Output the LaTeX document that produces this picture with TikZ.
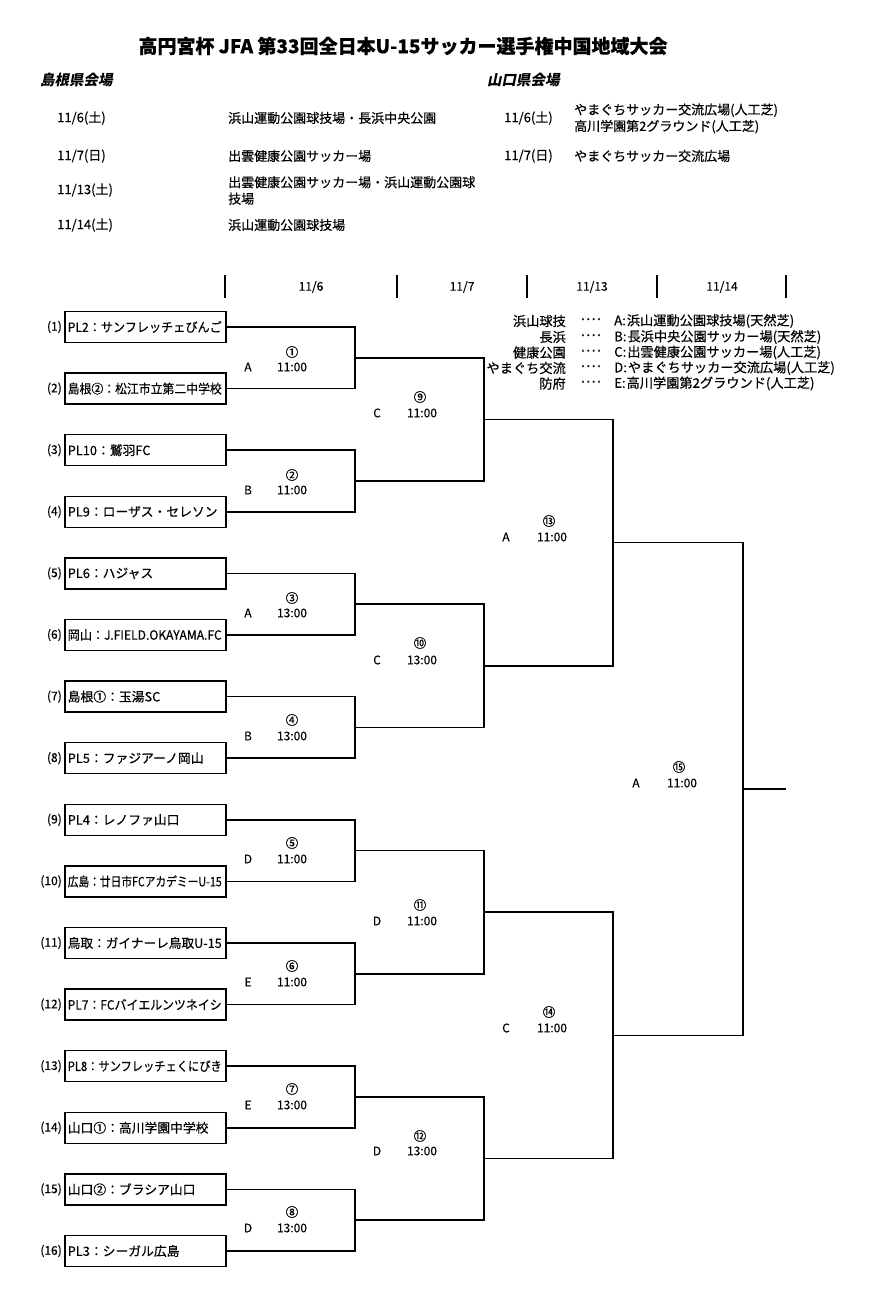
\documentclass[tikz,border=0pt]{standalone}
\usepackage{fontspec}
\usepackage{graphicx}
\setmainfont{Noto Sans CJK JP}[FakeBold=0.4]
\newfontfamily\headfont[FakeSlant=0.2]{Noto Sans CJK JP}
\newfontfamily\dotfont[FakeBold=1.5]{DejaVu Sans}
\newsavebox\namebox
\newcommand\fitname[1]{\sbox\namebox{#1}\ifdim\wd\namebox>154pt\resizebox{154pt}{\height}{\usebox\namebox}\else\usebox\namebox\fi}
\tikzset{
  teambox/.style={draw, line width=1.5pt, anchor=west, text width=155pt, inner xsep=3pt, inner ysep=0pt, minimum height=31pt, align=left, font=\fontsize{12.8}{14}\selectfont},
  seed/.style={anchor=east, inner sep=0pt, font=\fontsize{12}{13}\selectfont},
  bline/.style={line width=1.5pt},
  num/.style={inner sep=0pt, font=\fontsize{12.5}{14}\selectfont},
  lbl/.style={inner sep=0pt, font=\fontsize{12}{13}\selectfont},
  sched/.style={inner sep=0pt, anchor=west, align=left, font=\fontsize{13}{16.5}\selectfont},
  legl/.style={inner sep=0pt, anchor=east, font=\fontsize{13.2}{14}\selectfont},
  legr/.style={inner sep=0pt, anchor=west, font=\fontsize{13.2}{14}\selectfont},
  legd/.style={inner sep=0pt, font=\dotfont\fontsize{13}{14}\selectfont},
  datehd/.style={inner sep=0pt, font=\fontsize{12}{13}\selectfont},
  heading/.style={inner sep=0pt, anchor=west, font=\headfont\bfseries\fontsize{14.5}{16}\selectfont}
}
\begin{document}
\begin{tikzpicture}[x=1pt, y=-1pt, line join=miter]
\useasboundingbox (0,0) rectangle (894,1289);
% title
\node[inner sep=0pt, font=\bfseries\fontsize{19}{22}\selectfont] (title) at (403,46) {高円宮杯 JFA 第33回全日本U-15サッカー選手権中国地域大会};
% headings
\node[heading] (hs) at (40,80) {島根県会場};
\node[heading] (hy) at (487,80) {山口県会場};
% schedule left
\node[sched] (sd1) at (57,118) {11/6(土)};
\node[sched] (sv1) at (228,118) {浜山運動公園球技場・長浜中央公園};
\node[sched] (sd2) at (57,156) {11/7(日)};
\node[sched] (sv2) at (228,156) {出雲健康公園サッカー場};
\node[sched] (sd3) at (57,190) {11/13(土)};
\node[sched] (sv3) at (228,190.5) {出雲健康公園サッカー場・浜山運動公園球\\技場};
\node[sched] (sd4) at (57,225) {11/14(土)};
\node[sched] (sv4) at (228,225) {浜山運動公園球技場};
% schedule right
\node[sched] (yd1) at (504,118) {11/6(土)};
\node[sched] (yv1) at (574,118.5) {やまぐちサッカー交流広場(人工芝)\\高川学園第2グラウンド(人工芝)};
\node[sched] (yd2) at (504,156) {11/7(日)};
\node[sched] (yv2) at (574,156) {やまぐちサッカー交流広場};
% date header
\foreach \x [count=\i] in {225,397,527,657,786}{
  \coordinate (ht\i) at (\x,275);
  \coordinate (hb\i) at (\x,298);
  \draw[line width=1.5pt] (ht\i) -- (hb\i);
}
\node[datehd] (d1) at (311,287) {11/6};
\node[datehd] (d2) at (462,287) {11/7};
\node[datehd] (d3) at (592,287) {11/13};
\node[datehd] (d4) at (722,287) {11/14};
% legend
\node[legl] (la) at (566,321) {浜山球技};
\node[legl] (lb) at (566,337) {長浜};
\node[legl] (lc) at (566,352.5) {健康公園};
\node[legl] (ld) at (566,368) {やまぐち交流};
\node[legl] (le) at (566,383.5) {防府};
\foreach \yy [count=\i] in {321,337,352.5,368,383.5}{
  \node[legd] (dots\i) at (591,\yy) {·\kern1.2pt·\kern1.2pt·\kern1.2pt·};
}
\node[legr] (ra) at (614,321) {A:\kern1pt浜山運動公園球技場(天然芝)};
\node[legr] (rb) at (614,337) {B:\kern1pt長浜中央公園サッカー場(天然芝)};
\node[legr] (rc) at (614,352.5) {C:\kern1pt出雲健康公園サッカー場(人工芝)};
\node[legr] (rd) at (614,368) {D:\kern1ptやまぐちサッカー交流広場(人工芝)};
\node[legr] (re) at (614,383.5) {E:\kern1pt高川学園第2グラウンド(人工芝)};
% teams
\foreach \nm [count=\i] in {
  {PL2：サンフレッチェびんご},
  {島根②：松江市立第二中学校},
  {PL10：鷲羽FC},
  {PL9：ローザス・セレソン},
  {PL6：ハジャス},
  {岡山：J.FIELD.OKAYAMA.FC},
  {島根①：玉湯SC},
  {PL5：ファジアーノ岡山},
  {PL4：レノファ山口},
  {広島：廿日市FCアカデミーU-15},
  {鳥取：ガイナーレ鳥取U-15},
  {PL7：FCバイエルンツネイシ},
  {PL8：サンフレッチェくにびき},
  {山口①：高川学園中学校},
  {山口②：ブラシア山口},
  {PL3：シーガル広島}}{
  \pgfmathsetmacro\yy{327+61.6*(\i-1)}
  \node[teambox] (t\i) at (64,\yy) {\fitname{\nm}};
  \node[seed] (s\i) at (62,\yy) {(\i)};
}
% junctions
\coordinate (j1) at (355,357.8);
\coordinate (j2) at (355,481);
\coordinate (j3) at (355,604.2);
\coordinate (j4) at (355,727.4);
\coordinate (j5) at (355,850.6);
\coordinate (j6) at (355,973.8);
\coordinate (j7) at (355,1097);
\coordinate (j8) at (355,1220.2);
\coordinate (k1) at (484,419.4);
\coordinate (k2) at (484,665.8);
\coordinate (k3) at (484,912.2);
\coordinate (k4) at (484,1158.6);
\coordinate (q1) at (613,542.6);
\coordinate (q2) at (613,1035.4);
\coordinate (f) at (743,789);
\coordinate (fend) at (786,789);
% bracket lines
\foreach \k [evaluate=\k as \a using int(2*\k-1), evaluate=\k as \b using int(2*\k)] in {1,...,8}{
  \draw[bline] (t\a.east) -| (j\k) |- (t\b.east);
}
\foreach \k [evaluate=\k as \a using int(2*\k-1), evaluate=\k as \b using int(2*\k)] in {1,...,4}{
  \draw[bline] (j\a) -| (k\k) |- (j\b);
}
\draw[bline] (k1) -| (q1) |- (k2);
\draw[bline] (k3) -| (q2) |- (k4);
\draw[bline] (q1) -| (f) |- (q2);
\draw[bline] (f) -- (fend);
% match labels round 1
\node[num] (n1) at (292,352) {①};
\node[lbl] (v1) at (248,367) {A};
\node[lbl] (c1) at (292,367) {11:00};
\node[num] (n2) at (292,475) {②};
\node[lbl] (v2) at (248,490) {B};
\node[lbl] (c2) at (292,490) {11:00};
\node[num] (n3) at (292,598) {③};
\node[lbl] (v3) at (248,613) {A};
\node[lbl] (c3) at (292,613) {13:00};
\node[num] (n4) at (292,720) {④};
\node[lbl] (v4) at (248,736) {B};
\node[lbl] (c4) at (292,736) {13:00};
\node[num] (n5) at (292,843) {⑤};
\node[lbl] (v5) at (248,859) {D};
\node[lbl] (c5) at (292,859) {11:00};
\node[num] (n6) at (292,966) {⑥};
\node[lbl] (v6) at (248,982) {E};
\node[lbl] (c6) at (292,982) {11:00};
\node[num] (n7) at (292,1089) {⑦};
\node[lbl] (v7) at (248,1105) {E};
\node[lbl] (c7) at (292,1105) {13:00};
\node[num] (n8) at (292,1212) {⑧};
\node[lbl] (v8) at (248,1228) {D};
\node[lbl] (c8) at (292,1228) {13:00};
% round 2
\node[num] (n9) at (420,397) {⑨};
\node[lbl] (v9) at (377,413) {C};
\node[lbl] (c9) at (422,413) {11:00};
\node[num] (n10) at (420,643) {⑩};
\node[lbl] (v10) at (377,660) {C};
\node[lbl] (c10) at (422,660) {13:00};
\node[num] (n11) at (420,905) {⑪};
\node[lbl] (v11) at (377,921) {D};
\node[lbl] (c11) at (422,921) {11:00};
\node[num] (n12) at (420,1136) {⑫};
\node[lbl] (v12) at (377,1151) {D};
\node[lbl] (c12) at (422,1151) {13:00};
% round 3
\node[num] (n13) at (549,521) {⑬};
\node[lbl] (v13) at (506,537) {A};
\node[lbl] (c13) at (552,537) {11:00};
\node[num] (n14) at (549,1012) {⑭};
\node[lbl] (v14) at (506,1028) {C};
\node[lbl] (c14) at (552,1028) {11:00};
% final
\node[num] (n15) at (679,767) {⑮};
\node[lbl] (v15) at (636,783) {A};
\node[lbl] (c15) at (682,783) {11:00};
\end{tikzpicture}
\end{document}
